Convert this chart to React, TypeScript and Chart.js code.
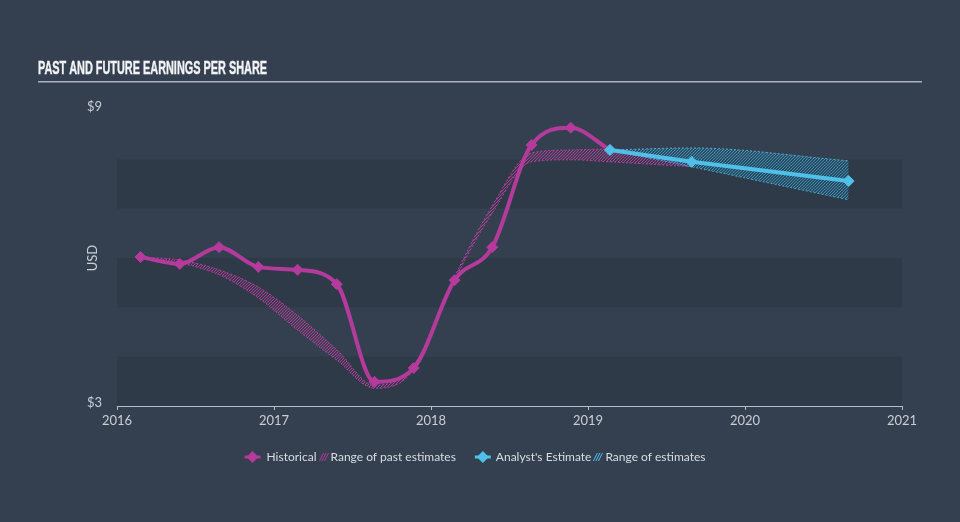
import { useEffect, useRef } from 'react';
import { Chart, registerables } from 'chart.js';

Chart.register(...registerables);

// ---- data ----
const historicalDates = [2016.15, 2016.4, 2016.65, 2016.9, 2017.15, 2017.4, 2017.64, 2017.89, 2018.15, 2018.39, 2018.64, 2018.89, 2019.14];
const historicalEps = [6.02, 5.88, 6.22, 5.82, 5.76, 5.47, 3.49, 3.77, 5.55, 6.22, 8.29, 8.64, 8.19];

const pastEstimateDates = [2016.15, 2016.4, 2016.65, 2016.9, 2017.15, 2017.4, 2017.64, 2017.89, 2018.15, 2018.39, 2018.64, 2018.89, 2019.14, 2019.66];
const pastEstimateHigh = [6.02, 5.96, 5.76, 5.41, 4.84, 4.14, 3.42, 3.83, 5.62, 7.06, 8.13, 8.19, 8.21, 7.85];
const pastEstimateLow = [6.02, 5.9, 5.66, 5.19, 4.54, 3.93, 3.36, 3.73, 5.55, 6.91, 7.95, 7.99, 7.95, 7.85];

const forecastDates = [2019.14, 2019.66, 2020.66];
const forecastEps = [8.19, 7.95, 7.56];
const forecastHigh = [8.19, 8.23, 7.97];
const forecastLow = [8.19, 7.85, 7.18];

const xMin = 2016;
const xMax = 2021;
const yMin = 3;
const yMax = 9;
const yTickValues = [3, 9];
const darkBands = [[3, 4], [5, 6], [7, 8]];

const titleText = 'PAST AND FUTURE EARNINGS PER SHARE';
const yAxisTitle = 'USD';
const legendLabels = ['Historical', 'Range of past estimates', "Analyst's Estimate", 'Range of estimates'];

// ---- styles ----
const BG = '#34404f';
const BAND = '#2f3a49';
const MAGENTA = '#b43a9b';
const CYAN = '#4fc1e9';
const TEXT = '#c9ced6';
const AXIS = '#b7bec8';
const FONT = 'Lato, "Open Sans", sans-serif';

const pts = (xs: number[], ys: number[]) => xs.map((x, i) => ({ x, y: ys[i] }));

function makePattern(color: string, base: string, spacing: number): CanvasPattern | string {
  const c = document.createElement('canvas');
  c.width = spacing;
  c.height = spacing;
  const g = c.getContext('2d');
  if (!g) return color;
  g.fillStyle = base;
  g.fillRect(0, 0, spacing, spacing);
  g.strokeStyle = color;
  g.lineWidth = 1;
  g.beginPath();
  g.moveTo(0, spacing);
  g.lineTo(spacing, 0);
  g.moveTo(-spacing, spacing);
  g.lineTo(0, 0);
  g.moveTo(spacing, spacing);
  g.lineTo(2 * spacing, 0);
  g.stroke();
  const p = g.createPattern(c, 'repeat');
  return p || color;
}

const decorPlugin = {
  id: 'decor',
  beforeDraw(chart: any) {
    const { ctx, width, height, chartArea, scales } = chart;
    ctx.save();
    ctx.fillStyle = BG;
    ctx.fillRect(0, 0, width, height);

    // bands
    const y = scales.y;
    ctx.fillStyle = BAND;
    for (const [a, b] of darkBands) {
      const top = y.getPixelForValue(b);
      const bot = y.getPixelForValue(a);
      ctx.fillRect(chartArea.left, top, chartArea.right - chartArea.left, bot - top);
    }

    // title
    ctx.font = 'bold 19px "Liberation Sans Narrow", "Liberation Sans", sans-serif';
    ctx.fillStyle = '#f2f3f5';
    ctx.textBaseline = 'alphabetic';
    ctx.textAlign = 'left';
    const w = ctx.measureText(titleText).width;
    ctx.save();
    ctx.translate(38, 74);
    ctx.scale(229 / w, 1);
    ctx.fillText(titleText, 0, 0);
    ctx.lineWidth = 0.4;
    ctx.strokeStyle = '#f2f3f5';
    ctx.strokeText(titleText, 0, 0);
    ctx.restore();

    // underline
    ctx.strokeStyle = '#aab1ba';
    ctx.lineWidth = 1.5;
    ctx.beginPath();
    ctx.moveTo(38, 81.75);
    ctx.lineTo(922, 81.75);
    ctx.stroke();

    // y axis title
    ctx.save();
    ctx.translate(93, (chartArea.top + chartArea.bottom) / 2);
    ctx.rotate(-Math.PI / 2);
    ctx.font = `13px ${FONT}`;
    ctx.fillStyle = TEXT;
    ctx.textAlign = 'center';
    ctx.textBaseline = 'middle';
    ctx.fillText(yAxisTitle, 0, 0);
    ctx.restore();

    ctx.restore();
  },
  afterDraw(chart: any) {
    const { ctx } = chart;
    ctx.save();
    ctx.font = `12px ${FONT}`;
    ctx.textBaseline = 'middle';
    ctx.textAlign = 'left';
    const cy = 457;
    const widths = legendLabels.map((t) => ctx.measureText(t).width);
    const total = 16 + 6 + widths[0] + 3 + 7 + 4 + widths[1] + 19 + 16 + 5 + widths[2] + 2 + 7 + 5 + widths[3];
    let x = 475 - total / 2;

    const diamondIcon = (cx: number, color: string) => {
      ctx.strokeStyle = color;
      ctx.lineWidth = 3;
      ctx.beginPath();
      ctx.moveTo(cx - 8, cy);
      ctx.lineTo(cx + 8, cy);
      ctx.stroke();
      ctx.fillStyle = color;
      ctx.beginPath();
      ctx.moveTo(cx, cy - 6);
      ctx.lineTo(cx + 6, cy);
      ctx.lineTo(cx, cy + 6);
      ctx.lineTo(cx - 6, cy);
      ctx.closePath();
      ctx.fill();
    };
    const hatchIcon = (x0: number, color: string) => {
      ctx.strokeStyle = color;
      ctx.lineWidth = 1;
      ctx.beginPath();
      for (let k = 0; k < 3; k++) {
        ctx.moveTo(x0 + k * 2.5, cy + 4);
        ctx.lineTo(x0 + k * 2.5 + 4, cy - 4);
      }
      ctx.stroke();
    };

    diamondIcon(x + 8, MAGENTA);
    x += 16 + 6;
    ctx.fillStyle = '#d8dde3';
    ctx.fillText(legendLabels[0], x, cy);
    x += widths[0] + 3;
    hatchIcon(x, MAGENTA);
    x += 7 + 4;
    ctx.fillStyle = '#d8dde3';
    ctx.fillText(legendLabels[1], x, cy);
    x += widths[1] + 19;
    diamondIcon(x + 8, CYAN);
    x += 16 + 5;
    ctx.fillStyle = '#d8dde3';
    ctx.fillText(legendLabels[2], x, cy);
    x += widths[2] + 2;
    hatchIcon(x, CYAN);
    x += 7 + 5;
    ctx.fillStyle = '#d8dde3';
    ctx.fillText(legendLabels[3], x, cy);
    ctx.restore();
  },
};

export default function App() {
  const canvasRef = useRef<HTMLCanvasElement | null>(null);

  useEffect(() => {
    const canvas = canvasRef.current;
    if (!canvas) return;
    const magentaHatch = makePattern('rgba(190,62,160,0.85)', 'rgba(180,58,155,0.08)', 3);
    const cyanHatch = makePattern('rgba(62,160,200,0.8)', 'rgba(40,110,145,0.3)', 3);

    const chart = new Chart(canvas, {
      type: 'line',
      data: {
        datasets: [
          {
            label: 'Analyst',
            data: pts(forecastDates, forecastEps),
            borderColor: CYAN,
            backgroundColor: CYAN,
            borderWidth: 4,
            pointStyle: 'rectRot',
            pointRadius: 5.5,
            pointBorderWidth: 1,
            pointBackgroundColor: CYAN,
            pointBorderColor: CYAN,
            tension: 0,
            fill: false,
          },
          {
            label: 'Historical',
            data: pts(historicalDates, historicalEps),
            borderColor: MAGENTA,
            backgroundColor: MAGENTA,
            borderWidth: 4,
            pointStyle: 'rectRot',
            pointRadius: 5.5,
            pointBorderWidth: 1,
            pointBackgroundColor: MAGENTA,
            pointBorderColor: MAGENTA,
            cubicInterpolationMode: 'monotone',
            fill: false,
          },
          {
            label: 'ForecastHigh',
            data: pts(forecastDates, forecastHigh),
            borderColor: 'rgba(79,193,233,0.85)',
            borderWidth: 1,
            borderDash: [2, 2],
            pointRadius: 0,
            cubicInterpolationMode: 'monotone',
            backgroundColor: cyanHatch as any,
            fill: '+1',
          },
          {
            label: 'ForecastLow',
            data: pts(forecastDates, forecastLow),
            borderColor: 'rgba(79,193,233,0.85)',
            borderWidth: 1,
            borderDash: [2, 2],
            pointRadius: 0,
            cubicInterpolationMode: 'monotone',
            fill: false,
          },
          {
            label: 'PastHigh',
            data: pts(pastEstimateDates, pastEstimateHigh),
            borderColor: 'rgba(190,62,160,0.9)',
            borderWidth: 1,
            borderDash: [2, 2],
            pointRadius: 0,
            cubicInterpolationMode: 'monotone',
            backgroundColor: magentaHatch as any,
            fill: '+1',
          },
          {
            label: 'PastLow',
            data: pts(pastEstimateDates, pastEstimateLow),
            borderColor: 'rgba(190,62,160,0.9)',
            borderWidth: 1,
            borderDash: [2, 2],
            pointRadius: 0,
            cubicInterpolationMode: 'monotone',
            fill: false,
          },
        ],
      },
      options: {
        responsive: false,
        animation: false,
        devicePixelRatio: 1,
        layout: { padding: { left: 0, right: 58, top: 110, bottom: 0 } },
        plugins: {
          legend: { display: false },
          tooltip: { enabled: false },
          title: { display: false },
        },
        scales: {
          x: {
            type: 'linear',
            min: xMin,
            max: xMax,
            afterFit: (s: any) => {
              s.height = 116;
            },
            ticks: {
              stepSize: 1,
              color: TEXT,
              font: { family: FONT, size: 13 },
              padding: 3,
              maxRotation: 0,
              callback: (v: any) => String(v),
            },
            grid: {
              display: true,
              drawOnChartArea: false,
              drawTicks: true,
              tickLength: 4,
              color: AXIS,
            },
            border: { display: true, color: AXIS, width: 1 },
          },
          y: {
            type: 'linear',
            min: yMin,
            max: yMax,
            afterFit: (s: any) => {
              s.width = 117;
            },
            afterBuildTicks: (s: any) => {
              s.ticks = yTickValues.map((v) => ({ value: v }));
            },
            ticks: {
              color: TEXT,
              font: { family: FONT, size: 13 },
              padding: 15,
              labelOffset: -3,
              callback: (v: any) => '$' + v,
            },
            grid: { display: false, drawTicks: false },
            border: { display: false },
          },
        },
      },
      plugins: [decorPlugin],
    } as any);

    return () => chart.destroy();
  }, []);

  return (
    <div style={{ position: 'absolute', left: 0, top: 0, width: 960, height: 522, background: BG }}>
      <canvas ref={canvasRef} width={960} height={522} style={{ display: 'block', width: 960, height: 522 }} />
    </div>
  );
}
